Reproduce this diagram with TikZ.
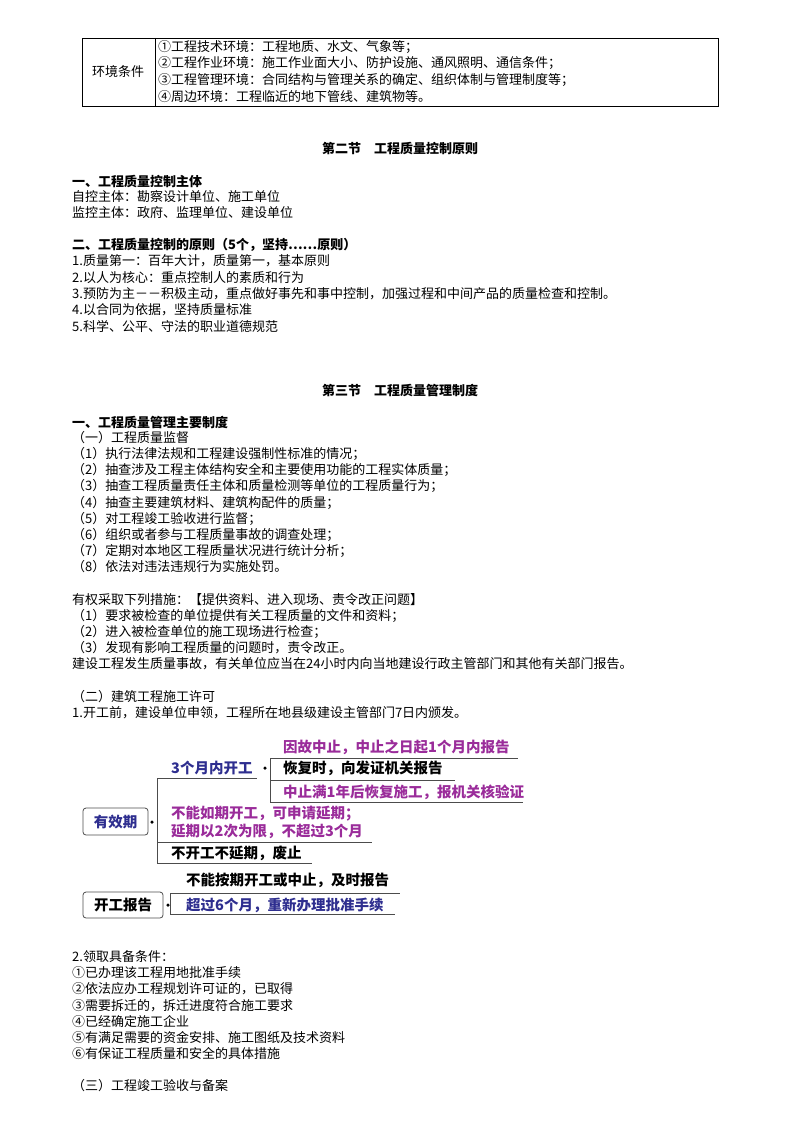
\documentclass[tikz,border=0pt]{standalone}
\usepackage{fontspec}
\setmainfont{Noto Sans CJK SC}
\definecolor{mblue}{HTML}{2E2E8F}
\definecolor{mpurp}{HTML}{9A2C9A}
\begin{document}
\begin{tikzpicture}[x=1pt,y=-1pt,
  tx/.style={anchor=west,inner sep=0pt,font=\fontsize{13}{15}\selectfont},
  hd/.style={anchor=west,inner sep=0pt,font=\fontsize{13}{15}\selectfont\bfseries},
  ct/.style={inner sep=0pt,font=\fontsize{13}{15}\selectfont\bfseries},
  mm/.style={anchor=west,inner sep=0pt,font=\fontsize{14.5}{16}\selectfont\bfseries},
  bx/.style={draw,rounded corners=3pt,line width=0.8pt,inner sep=0pt,font=\fontsize{14.5}{16}\selectfont\bfseries},
  ln/.style={line width=0.9pt,draw=black!70},
  dot/.style={circle,fill=black,inner sep=0pt,minimum size=3.5pt}]
\useasboundingbox (0,0) rectangle (800,1132);
% table
\draw[line width=0.9pt] (82,38) rectangle (718,106);
\draw[line width=0.9pt] (155,38) -- (155,106);
\node[inner sep=0pt,font=\fontsize{13}{15}\selectfont] (env) at (118,72) {环境条件};
\node[tx] (e1) at (158,47) {①工程技术环境：工程地质、水文、气象等；};
\node[tx] (e2) at (158,63) {②工程作业环境：施工作业面大小、防护设施、通风照明、通信条件；};
\node[tx] (e3) at (158,80) {③工程管理环境：合同结构与管理关系的确定、组织体制与管理制度等；};
\node[tx] (e4) at (158,97) {④周边环境：工程临近的地下管线、建筑物等。};
% section 2
\node[ct] (s2) at (400,149) {第二节\quad 工程质量控制原则};
\node[hd] (a1) at (72,181) {一、工程质量控制主体};
\node[tx] (a2) at (72,197) {自控主体：勘察设计单位、施工单位};
\node[tx] (a3) at (72,213) {监控主体：政府、监理单位、建设单位};
\node[hd] (b0) at (72,245) {二、工程质量控制的原则（5个，坚持……原则）};
\node[tx] (b1) at (72,261) {1.质量第一：百年大计，质量第一，基本原则};
\node[tx] (b2) at (72,278) {2.以人为核心：重点控制人的素质和行为};
\node[tx] (b3) at (72,294) {3.预防为主－－积极主动，重点做好事先和事中控制，加强过程和中间产品的质量检查和控制。};
\node[tx] (b4) at (72,310) {4.以合同为依据，坚持质量标准};
\node[tx] (b5) at (72,326) {5.科学、公平、守法的职业道德规范};
% section 3
\node[ct] (s3) at (400,390) {第三节\quad 工程质量管理制度};
\node[hd] (c0) at (72,422) {一、工程质量管理主要制度};
\node[tx] (c1) at (72,438) {（一）工程质量监督};
\node[tx] (c2) at (72,454) {（1）执行法律法规和工程建设强制性标准的情况；};
\node[tx] (c3) at (72,470) {（2）抽查涉及工程主体结构安全和主要使用功能的工程实体质量；};
\node[tx] (c4) at (72,486) {（3）抽查工程质量责任主体和质量检测等单位的工程质量行为；};
\node[tx] (c5) at (72,503) {（4）抽查主要建筑材料、建筑构配件的质量；};
\node[tx] (c6) at (72,519) {（5）对工程竣工验收进行监督；};
\node[tx] (c7) at (72,535) {（6）组织或者参与工程质量事故的调查处理；};
\node[tx] (c8) at (72,551) {（7）定期对本地区工程质量状况进行统计分析；};
\node[tx] (c9) at (72,567) {（8）依法对违法违规行为实施处罚。};
\node[tx] (d0) at (72,600) {有权采取下列措施：【提供资料、进入现场、责令改正问题】};
\node[tx] (d1) at (72,616) {（1）要求被检查的单位提供有关工程质量的文件和资料；};
\node[tx] (d2) at (72,632) {（2）进入被检查单位的施工现场进行检查；};
\node[tx] (d3) at (72,648) {（3）发现有影响工程质量的问题时，责令改正。};
\node[tx] (d4) at (72,664) {建设工程发生质量事故，有关单位应当在24小时内向当地建设行政主管部门和其他有关部门报告。};
\node[tx] (f0) at (72,697) {（二）建筑工程施工许可};
\node[tx] (f1) at (72,713) {1.开工前，建设单位申领，工程所在地县级建设主管部门7日内颁发。};
% mind map
\node[bx,mblue,draw=black!70,minimum width=65pt,minimum height=27pt] (yx) at (115.5,821.5) {有效期};
\node[dot] (yd) at (152,822) {};
\coordinate (v1t) at (157,778); \coordinate (v1b) at (157,863);
\draw[ln] (v1t) -- (v1b);
\draw[ln] (v1t) -- (257,778);
\draw[ln] (157,842) -- (372,842);
\draw[ln] (v1b) -- (312,863);
\node[mm,mblue] (k1) at (171,768) {3个月内开工};
\node[dot] (kd) at (265,768) {};
\coordinate (v2t) at (270,758); \coordinate (v2b) at (270,802);
\draw[ln] (v2t) -- (v2b);
\draw[ln] (v2t) -- (518,758);
\draw[ln] (270,780) -- (455,780);
\draw[ln] (v2b) -- (523,802);
\node[mm,mpurp] (k11) at (283,747) {因故中止，中止之日起1个月内报告};
\node[mm] (k12) at (283,768) {恢复时，向发证机关报告};
\node[mm,mpurp] (k13) at (283,792) {中止满1年后恢复施工，报机关核验证};
\node[mm,mpurp,align=left,font=\fontsize{14.5}{18}\selectfont\bfseries] (k2) at (171,822) {不能如期开工，可申请延期；\\延期以2次为限，不超过3个月};
\node[mm] (k3) at (171,853) {不开工不延期，废止};
\node[bx,draw=black!70,minimum width=80pt,minimum height=26pt] (kg) at (123,905) {开工报告};
\node[dot] (gd) at (168,905) {};
\draw[ln] (170,893) -- (170,914);
\draw[ln] (170,893) -- (400,893);
\draw[ln] (170,914) -- (395,914);
\node[mm] (g1) at (186,880) {不能按期开工或中止，及时报告};
\node[mm,mblue] (g2) at (186,905) {超过6个月，重新办理批准手续};
% rest
\node[tx] (h0) at (72,957) {2.领取具备条件：};
\node[tx] (h1) at (72,973) {①已办理该工程用地批准手续};
\node[tx] (h2) at (72,989) {②依法应办工程规划许可证的，已取得};
\node[tx] (h3) at (72,1006) {③需要拆迁的，拆迁进度符合施工要求};
\node[tx] (h4) at (72,1022) {④已经确定施工企业};
\node[tx] (h5) at (72,1038) {⑤有满足需要的资金安排、施工图纸及技术资料};
\node[tx] (h6) at (72,1054) {⑥有保证工程质量和安全的具体措施};
\node[tx] (h7) at (72,1086) {（三）工程竣工验收与备案};
\end{tikzpicture}
\end{document}
